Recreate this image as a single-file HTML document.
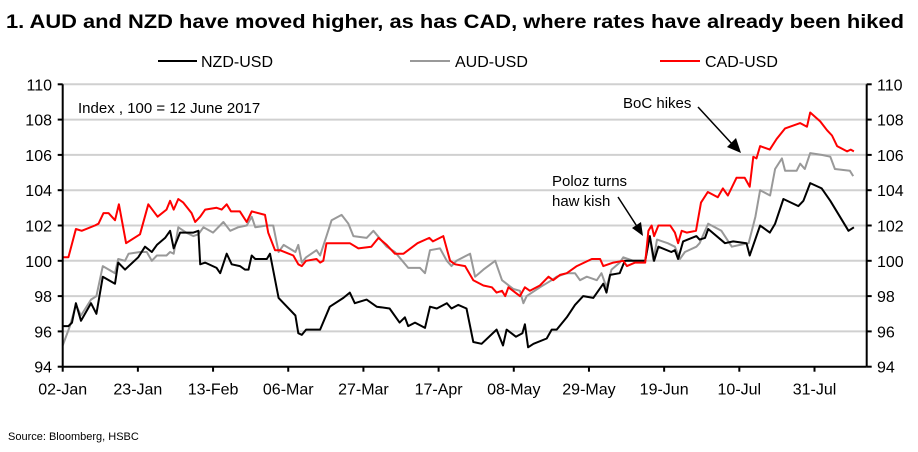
<!DOCTYPE html>
<html><head><meta charset="utf-8">
<style>
body{margin:0;background:#fff;width:918px;height:447px;overflow:hidden;font-family:"Liberation Sans",Arial,sans-serif}
svg text{font-family:"Liberation Sans",Arial,sans-serif}
</style></head>
<body>
<svg id="chart" width="918" height="447" viewBox="0 0 918 447" xmlns="http://www.w3.org/2000/svg">
<text x="6" y="28" font-size="19" font-weight="bold" fill="#000" textLength="898" lengthAdjust="spacingAndGlyphs">1. AUD and NZD have moved higher, as has CAD, where rates have already been hiked</text>
<g>
<line x1="158" y1="61" x2="197" y2="61" stroke="#000" stroke-width="2"/>
<text x="201" y="67" font-size="16">NZD-USD</text>
<line x1="410" y1="61" x2="450" y2="61" stroke="#999" stroke-width="2"/>
<text x="455" y="67" font-size="16">AUD-USD</text>
<line x1="660" y1="61" x2="700" y2="61" stroke="#f00" stroke-width="2"/>
<text x="705" y="67" font-size="16">CAD-USD</text>
</g>
<g id="grid"></g>
<g id="series"></g>
<g id="axes"></g>
<text x="78" y="113" font-size="15">Index , 100 = 12 June 2017</text>
<text x="552" y="186" font-size="15">Poloz turns</text>
<text x="552" y="206" font-size="15">haw kish</text>
<line x1="618" y1="197" x2="638" y2="228" stroke="#000" stroke-width="1.5"/>
<polygon points="643,236 632,228 641,222" fill="#000"/>
<text x="623" y="108" font-size="15">BoC hikes</text>
<line x1="698" y1="107" x2="733" y2="145" stroke="#000" stroke-width="1.5"/>
<polygon points="741,153 727,147 736,138" fill="#000"/>
<text x="8" y="440" font-size="11">Source:  Bloomberg, HSBC</text>
</svg>
<script>
const yTicks=[94,96,98,100,102,104,106,108,110];
const xTickLabels=["02-Jan","23-Jan","13-Feb","06-Mar","27-Mar","17-Apr","08-May","29-May","19-Jun","10-Jul","31-Jul"];
const xTickDays=[0,21,42,63,84,105,126,147,168,189,210];
const cadDays=[0,1.6,3.7,5.3,9,10,11.4,12.8,14.6,15.7,17.7,21.6,23.9,26.5,29,30,31,32.3,33.7,36,37,38.4,39.8,43,44.4,45.8,47,49.5,51.4,52.8,56.5,57.4,59.3,60.7,64.4,65.8,66.8,68,70.9,71.9,72.8,73.7,75.6,80.2,82.6,86.2,88.2,90.5,92.8,95.2,99.1,102.4,103.4,106.3,108.2,109.6,112.4,114.7,117.5,119.9,121.2,122.7,123.6,124.5,127.7,129.1,130.5,133.3,135.7,137,138.9,140.8,143.6,147.8,150.1,151,153.8,156.6,157.6,159.9,162.7,163.6,164.5,165.2,166.4,169.7,171,171.9,172.9,174.3,176.9,178.3,180.2,183,184.4,185.8,188.2,190.5,191.9,192.9,193.8,194.8,197.5,199.4,201.8,206,207.9,208.8,211.6,213.5,214.9,216.3,219.1,220.1,221];
const cadValues=[100.2,100.2,101.8,101.7,102.0,102.1,102.7,102.7,102.3,103.2,101.0,101.5,103.2,102.5,102.9,103.4,102.9,103.5,103.3,102.7,102.2,102.5,102.9,103.0,102.9,103.2,102.8,102.8,102.2,102.8,102.6,101.6,100.6,100.6,100.3,99.8,99.7,100.0,100.1,99.9,100.0,101.0,101.0,101.0,100.7,100.8,101.3,100.9,100.4,100.4,101.0,101.3,101.1,101.4,100.0,99.8,99.7,98.9,98.6,98.5,98.2,98.3,98.0,98.5,98.0,98.5,98.3,98.6,99.1,98.9,99.2,99.3,99.7,100.1,100.1,99.7,99.9,100.0,99.7,99.9,99.9,101.7,102.0,101.4,102.0,102.0,101.6,101.0,101.7,101.6,101.7,103.3,103.9,103.6,104.1,103.7,104.7,104.7,104.2,105.9,105.8,106.5,106.3,106.9,107.5,107.8,107.6,108.4,107.9,107.4,107.1,106.5,106.2,106.3,106.2];
const nzdDays=[0,1.6,2.6,3.7,5.1,7.9,9.4,11.2,14.6,15.5,17.4,21.1,23,24.9,26.3,28.6,30,31,32.8,36.5,37.9,38.4,39.8,43,44,45.8,47.2,49.5,50.9,51.9,52.8,53.8,57,57.9,60.3,61.7,65,65.8,66.8,68,71.9,74.6,78.4,80.2,81.6,84.9,87.7,91.3,94.1,95.6,96.5,98.4,101.2,102.6,104.5,107.3,108.6,110.5,112.8,114.7,117,121.2,123,124,126.6,128.4,129.1,130,131.5,135.2,136.6,138,140.8,143.1,145.4,148.2,151,151.9,152.9,155.6,157,160.3,162.7,164,165.2,166.4,170,171,171.9,173.3,177,177.9,179.4,180.3,185,187.3,191,191.9,194.8,197.5,199,201.3,205.5,206.9,208.8,212,214.4,219.5,221];
const nzdValues=[96.3,96.3,96.5,97.6,96.6,97.6,97.0,99.1,98.7,99.9,99.5,100.2,100.8,100.5,100.9,101.3,101.7,100.7,101.6,101.6,101.7,99.8,99.9,99.6,99.3,100.4,99.8,99.7,99.5,99.5,100.3,100.1,100.1,100.4,97.9,97.6,96.9,95.9,95.8,96.1,96.1,97.4,97.9,98.2,97.6,97.8,97.4,97.3,96.5,96.8,96.3,96.5,96.2,97.4,97.3,97.6,97.3,97.5,97.3,95.4,95.3,96.1,95.2,96.1,95.7,95.9,96.4,95.1,95.3,95.6,96.1,96.1,96.8,97.5,98.0,97.9,98.7,98.2,99.2,99.3,100.0,100.0,100.0,101.4,100.0,100.8,100.5,100.6,100.1,101.1,101.4,101.2,101.3,101.8,101.0,101.1,101.0,100.3,102.0,101.6,102.1,103.5,103.1,103.4,104.4,104.1,103.4,101.7,101.9];
const audDays=[0,2,3.7,5.1,7.9,9.4,11.2,14.6,15.5,17.4,18.4,21.6,23.5,24.9,26.3,29,30,31,32.3,34.5,36.5,37.9,39.3,42,44.9,46.8,49,51.4,52.8,53.8,57,58.8,60.3,61.7,65,65.8,66.8,68,70.9,71.9,73.7,75.1,77.9,79.8,81.2,84.9,86.8,90.5,92.8,96.5,99.8,101.2,102.6,105.4,107.3,108.6,110,113.8,115.2,117.5,120.8,122.7,125.9,127.7,128.7,129.6,133.3,136.6,138,140.8,143.1,144.5,146.4,149.2,150.5,151.9,153.3,155.6,156.6,159.4,162.7,164,165,166,169,171,172.4,173.8,177,177.9,180.3,184,186.9,189.2,191.6,193.5,194.8,197.6,199,200.9,201.8,205,206,207.3,208.8,212,214.4,215.7,219.9,220.8];
const audValues=[95.2,96.3,97.5,96.9,97.8,98.0,99.7,99.3,100.1,100.0,100.4,100.5,100.5,100.0,100.3,100.3,100.5,100.4,101.9,101.6,101.4,101.5,101.9,101.6,102.2,101.7,101.9,102.0,102.5,101.9,102.0,102.0,100.5,100.9,100.5,100.9,99.9,100.2,100.6,100.3,101.4,102.3,102.6,102.1,101.4,101.3,101.7,100.8,100.5,99.6,99.6,99.3,100.6,100.7,100.0,99.7,100.0,100.4,99.1,99.5,100.0,98.9,98.4,98.3,97.6,98.0,98.5,98.9,99.1,99.3,99.3,98.9,99.1,98.9,99.3,98.5,99.5,99.9,100.2,100.0,100.0,101.4,100.0,101.2,101.0,100.8,100.1,100.5,100.8,101.0,102.1,101.7,100.8,100.9,101.0,102.5,104.0,103.7,105.2,105.8,105.1,105.1,105.5,105.2,106.1,106.0,105.9,105.2,105.1,104.8];

const NS="http://www.w3.org/2000/svg";
const X0=62.7,DX=3.58,Y0=366.7,YMIN=94,YMAX=110,H=282.4,RIGHT=866.7;
function xs(d){return X0+d*DX;}
function ys(v){return Y0-(v-YMIN)/(YMAX-YMIN)*H;}
function mk(tag,attrs,parent){const e=document.createElementNS(NS,tag);for(const k in attrs)e.setAttribute(k,attrs[k]);parent.appendChild(e);return e;}
const grid=document.getElementById('grid'),axes=document.getElementById('axes'),series=document.getElementById('series');
yTicks.forEach(v=>{
  if(v>YMIN){const g=mk('line',{x1:X0,x2:RIGHT,y1:ys(v),y2:ys(v),stroke:'#d0d0d0','stroke-width':2},grid);
  
  }
  const l=mk('text',{x:52,y:ys(v)+6,'font-size':16,'text-anchor':'end'},axes);l.textContent=v;
  
  
  const r=mk('text',{x:877,y:ys(v)+6,'font-size':16},axes);r.textContent=v;
  
  
  mk('line',{x1:X0-5,x2:X0,y1:ys(v),y2:ys(v),stroke:'#000','stroke-width':2},axes);
  mk('line',{x1:RIGHT,x2:RIGHT+5,y1:ys(v),y2:ys(v),stroke:'#000','stroke-width':2},axes);
});
const la=mk('line',{x1:X0,x2:X0,y1:ys(YMAX),y2:Y0,stroke:'#000','stroke-width':2},axes);


const ra=mk('line',{x1:RIGHT,x2:RIGHT,y1:ys(YMAX),y2:Y0,stroke:'#000','stroke-width':2},axes);


const xa=mk('line',{x1:X0,x2:RIGHT,y1:Y0,y2:Y0,stroke:'#000','stroke-width':2},axes);


xTickLabels.forEach((t,i)=>{
  const x=xs(xTickDays[i]);
  mk('line',{x1:x,x2:x,y1:Y0,y2:Y0+5,stroke:'#000','stroke-width':2},axes);
  const l=mk('text',{x:x,y:Y0+28,'font-size':16,'text-anchor':'middle'},axes);l.textContent=t;
  
  
});
function draw(days,vals,color,name){
  const p=mk('polyline',{points:days.map((d,i)=>xs(d).toFixed(1)+','+ys(vals[i]).toFixed(1)).join(' '),fill:'none',stroke:color,'stroke-width':2,'stroke-linejoin':'round'},series);
  
  
}
draw(audDays,audValues,'#999','aud-usd-line');
draw(nzdDays,nzdValues,'#000','nzd-usd-line');
draw(cadDays,cadValues,'#f00','cad-usd-line');
</script>
</body></html>
